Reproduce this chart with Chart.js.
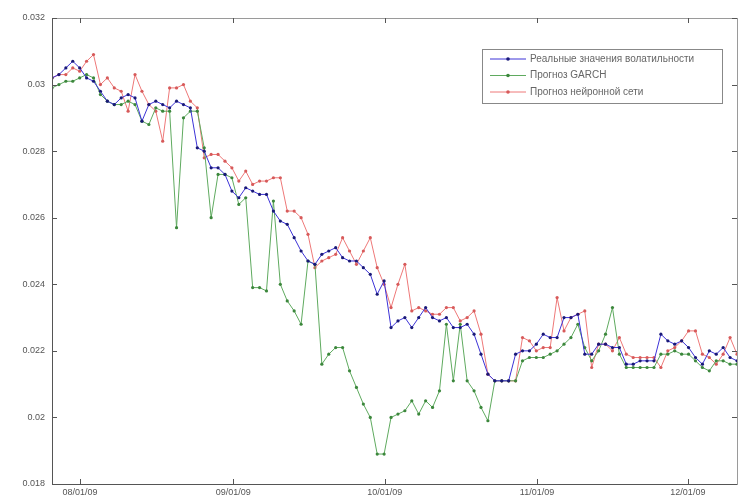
<html>
<head>
<meta charset="UTF-8">
<title>Volatility forecast</title>
<style>
  body { margin: 0; background: #fff; }
</style>
</head>
<body>
<canvas id="volChart" width="744" height="497"></canvas>
<script src="https://cdn.jsdelivr.net/npm/chart.js"></script>
<script>
// date ticks (position in trading-day index) and their labels
const xTickPos = [4.05, 26.2, 48.1, 70.1, 91.9];
const xTickLabels = ['08/01/09', '09/01/09', '10/01/09', '11/01/09', '12/01/09'];

const seriesNames = ['Реальные значения волатильности', 'Прогноз GARCH', 'Прогноз нейронной сети'];

// real volatility
const realVol = [
  0.0302,0.0303,0.0305,0.0307,0.0305,0.0302,0.0301,0.0298,0.0295,0.0294,
  0.0296,0.0297,0.0296,0.0289,0.0294,0.0295,0.0294,0.0293,0.0295,0.0294,
  0.0293,0.0281,0.0280,0.0275,0.0275,0.0273,0.0268,0.0266,0.0269,0.0268,
  0.0267,0.0267,0.0262,0.0259,0.0258,0.0254,0.0250,0.0247,0.0246,0.0249,
  0.0250,0.0251,0.0248,0.0247,0.0247,0.0245,0.0243,0.0237,0.0241,0.0227,
  0.0229,0.0230,0.0227,0.0230,0.0233,0.0230,0.0229,0.0230,0.0227,0.0227,
  0.0228,0.0225,0.0219,0.0213,0.0211,0.0211,0.0211,0.0219,0.0220,0.0220,
  0.0222,0.0225,0.0224,0.0224,0.0230,0.0230,0.0231,0.0219,0.0219,0.0222,
  0.0222,0.0221,0.0221,0.0216,0.0216,0.0217,0.0217,0.0217,0.0225,0.0223,
  0.0222,0.0223,0.0221,0.0218,0.0216,0.0220,0.0219,0.0221,0.0218,0.0217
];
// GARCH forecast
const garchVol = [
  0.0299,0.0300,0.0301,0.0301,0.0302,0.0303,0.0302,0.0297,0.0295,0.0294,
  0.0294,0.0295,0.0294,0.0289,0.0288,0.0293,0.0292,0.0292,0.0257,0.0290,
  0.0292,0.0292,0.0281,0.0260,0.0273,0.0273,0.0272,0.0264,0.0266,0.0239,
  0.0239,0.0238,0.0265,0.0240,0.0235,0.0232,0.0228,0.0247,0.0246,0.0216,
  0.0219,0.0221,0.0221,0.0214,0.0209,0.0204,0.0200,0.0189,0.0189,0.0200,
  0.0201,0.0202,0.0205,0.0201,0.0205,0.0203,0.0208,0.0228,0.0211,0.0228,
  0.0211,0.0208,0.0203,0.0199,0.0211,0.0211,0.0211,0.0211,0.0217,0.0218,
  0.0218,0.0218,0.0219,0.0220,0.0222,0.0224,0.0228,0.0221,0.0217,0.0220,
  0.0225,0.0233,0.0219,0.0215,0.0215,0.0215,0.0215,0.0215,0.0219,0.0219,
  0.0220,0.0219,0.0219,0.0217,0.0215,0.0214,0.0217,0.0217,0.0216,0.0216
];
// neural net forecast
const nnVol = [
  0.0302,0.0303,0.0303,0.0305,0.0304,0.0307,0.0309,0.0300,0.0302,0.0299,
  0.0298,0.0292,0.0303,0.0298,0.0294,0.0292,0.0283,0.0299,0.0299,0.0300,
  0.0295,0.0293,0.0278,0.0279,0.0279,0.0277,0.0275,0.0271,0.0274,0.0270,
  0.0271,0.0271,0.0272,0.0272,0.0262,0.0262,0.0260,0.0255,0.0245,0.0247,
  0.0248,0.0249,0.0254,0.0250,0.0246,0.0250,0.0254,0.0245,0.0240,0.0233,
  0.0240,0.0246,0.0232,0.0233,0.0232,0.0231,0.0231,0.0233,0.0233,0.0229,
  0.0230,0.0232,0.0225,0.0213,0.0211,0.0211,0.0211,0.0211,0.0224,0.0223,
  0.0220,0.0221,0.0221,0.0236,0.0226,0.0230,0.0231,0.0232,0.0215,0.0222,
  0.0222,0.0220,0.0224,0.0219,0.0218,0.0218,0.0218,0.0218,0.0215,0.0220,
  0.0221,0.0223,0.0226,0.0226,0.0219,0.0218,0.0216,0.0219,0.0224,0.0219
];

const lineCols = ['rgb(60,50,215)', 'rgb(95,170,95)', 'rgb(238,120,120)'];
const dotCols = ['rgb(25,25,120)', 'rgb(60,135,60)', 'rgb(215,90,90)'];

function toPts(arr) {
  return arr.map((v, i) => ({ x: i, y: v }));
}

const FONT = '"Liberation Sans", Arial, sans-serif';

// matlab-ish frame with inward ticks + boxed legend
const matlabFrame = {
  id: 'matlabFrame',
  afterDatasetsDraw(chart) {
    const ctx = chart.ctx;
    const a = chart.chartArea;
    const xs = chart.scales.x, ys = chart.scales.y;
    ctx.save();
    ctx.lineWidth = 1;
    ctx.strokeStyle = '#9a9a9a';
    ctx.strokeRect(a.left + 0.5, a.top + 0.5, a.right - a.left, a.bottom - a.top);
    ctx.strokeStyle = '#555';
    ctx.beginPath();
    ctx.moveTo(a.left + 0.5, a.top);
    ctx.lineTo(a.left + 0.5, a.bottom + 0.5);
    ctx.lineTo(a.right, a.bottom + 0.5);
    ctx.stroke();
    ctx.beginPath();
    ys.ticks.forEach(t => {
      const y = Math.round(ys.getPixelForValue(t.value)) + 0.5;
      ctx.moveTo(a.left, y); ctx.lineTo(a.left + 5, y);
      ctx.moveTo(a.right, y); ctx.lineTo(a.right - 5, y);
    });
    xs.ticks.forEach(t => {
      const x = Math.round(xs.getPixelForValue(t.value)) + 0.5;
      ctx.moveTo(x, a.bottom); ctx.lineTo(x, a.bottom - 5);
      ctx.moveTo(x, a.top); ctx.lineTo(x, a.top + 5);
    });
    ctx.stroke();

    // legend
    const bx = 482, by = 49, bw = 240, bh = 54;
    ctx.fillStyle = '#fff';
    ctx.fillRect(bx, by, bw, bh);
    ctx.strokeStyle = '#888';
    ctx.strokeRect(bx + 0.5, by + 0.5, bw, bh);
    ctx.font = '10px ' + FONT;
    ctx.textBaseline = 'middle';
    seriesNames.forEach((name, k) => {
      const y = by + 10 + k * 16.5;
      ctx.strokeStyle = lineCols[k];
      ctx.beginPath();
      ctx.moveTo(bx + 8, y); ctx.lineTo(bx + 44, y);
      ctx.stroke();
      ctx.fillStyle = dotCols[k];
      ctx.beginPath();
      ctx.arc(bx + 26, y, 1.8, 0, Math.PI * 2);
      ctx.fill();
      ctx.fillStyle = '#666';
      ctx.fillText(name, bx + 48, y);
    });
    ctx.restore();
  }
};

const ds = [realVol, garchVol, nnVol].map((arr, k) => ({
  label: seriesNames[k],
  data: toPts(arr),
  borderColor: lineCols[k],
  backgroundColor: dotCols[k],
  pointBackgroundColor: dotCols[k],
  pointBorderColor: dotCols[k],
  borderWidth: 1,
  pointRadius: 1.6,
  pointBorderWidth: 0,
  tension: 0
}));

new Chart(document.getElementById('volChart').getContext('2d'), {
  type: 'line',
  data: { datasets: ds },
  options: {
    responsive: false,
    animation: false,
    devicePixelRatio: 1,
    layout: { padding: { top: 18, right: 7, left: 0, bottom: 0 } },
    plugins: { legend: { display: false }, tooltip: { enabled: false } },
    scales: {
      x: {
        type: 'linear',
        min: 0,
        max: 99,
        grid: { display: false, drawTicks: false },
        border: { display: false },
        afterBuildTicks: (s) => { s.ticks = xTickPos.map(v => ({ value: v })); },
        afterFit: (s) => { s.height = 13; },
        ticks: {
          autoSkip: false,
          maxRotation: 0,
          padding: 3,
          color: '#555',
          font: { family: FONT, size: 9 },
          callback: (v) => {
            const k = xTickPos.indexOf(v);
            return k >= 0 ? xTickLabels[k] : '';
          }
        }
      },
      y: {
        min: 0.018,
        max: 0.032,
        grid: { display: false, drawTicks: false },
        border: { display: false },
        afterFit: (s) => { s.width = 52; },
        ticks: {
          stepSize: 0.002,
          padding: 7,
          color: '#555',
          font: { family: FONT, size: 9 },
          callback: (v) => String(Number(v.toFixed(3)))
        }
      }
    }
  },
  plugins: [matlabFrame]
});
</script>
</body>
</html>
